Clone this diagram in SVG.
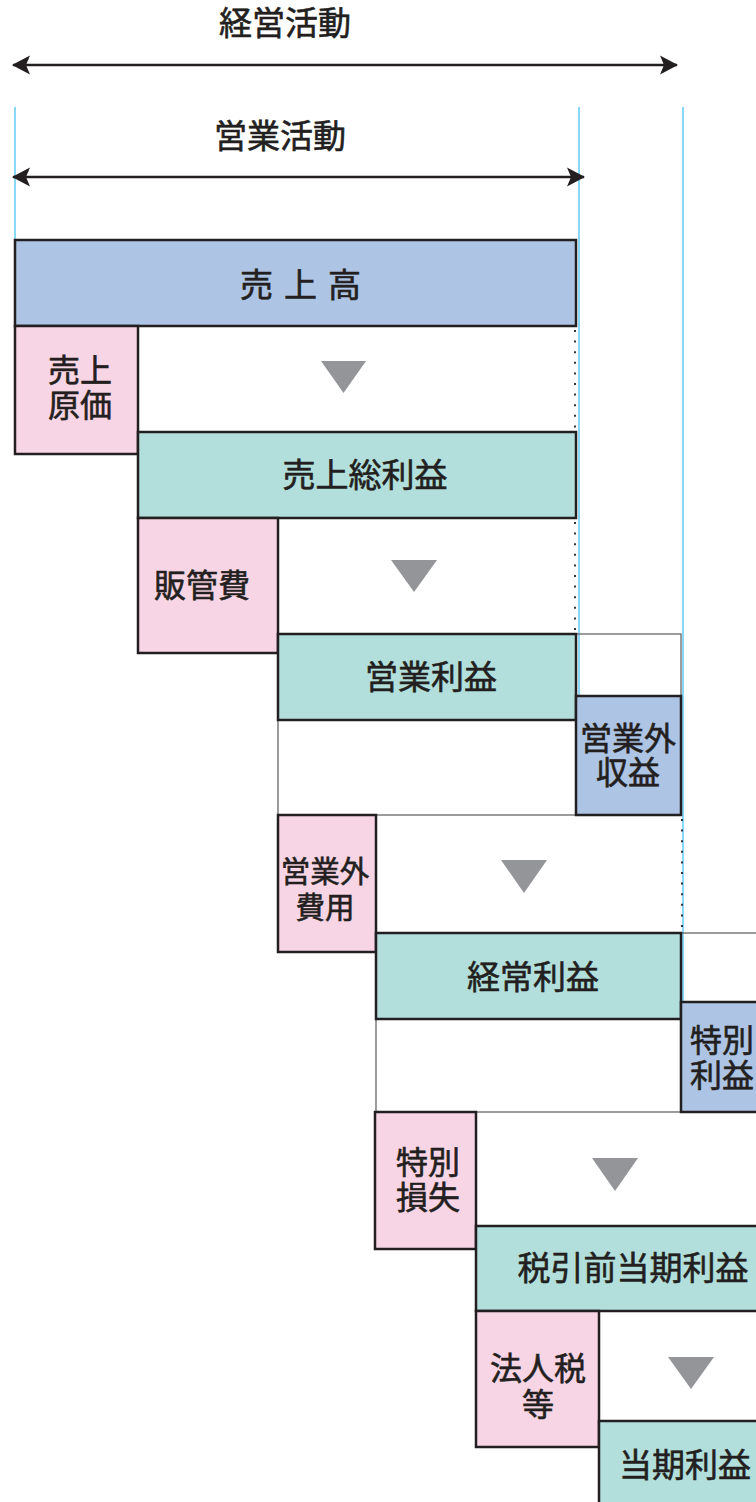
<svg xmlns="http://www.w3.org/2000/svg" width="756" height="1502" viewBox="0 0 756 1502">
<defs>
<style>
text{font-family:"Noto Sans CJK JP","Noto Sans",sans-serif;font-size:33px;fill:#231f20;stroke:#231f20;stroke-width:0.6;text-anchor:middle;font-weight:400}
.two{font-size:32px}
.box{stroke:#231f20;stroke-width:2.5}
.blue{fill:#adc4e4}
.pink{fill:#f8d5e5}
.teal{fill:#b2dfdb}
.thin{fill:none;stroke:#5a5a5a;stroke-width:1.2}
.guide{stroke:#6dcff6;stroke-width:1.6;fill:none}
.dot{stroke:#231f20;stroke-width:1.8;stroke-dasharray:2 8.6;fill:none}
.tri{fill:#939598}
.arr{stroke:#231f20;stroke-width:2.5;fill:none}
</style>
<marker id="ah" viewBox="0 0 20 20" refX="19" refY="10" markerWidth="20" markerHeight="20" markerUnits="userSpaceOnUse" orient="auto-start-reverse">
<path d="M20,10 L2,0.5 L6,10 L2,19.5 Z" fill="#231f20"/>
</marker>
</defs>
<rect width="756" height="1502" fill="#fff"/>

<g id="connectors">
<line class="guide" x1="15" y1="107" x2="15" y2="455"/>
<line class="guide" x1="579" y1="107" x2="579" y2="696"/>
<line class="guide" x1="683" y1="107" x2="683" y2="1002"/>
<line class="arr" x1="13" y1="65" x2="677" y2="65" marker-start="url(#ah)" marker-end="url(#ah)"/>
<line class="arr" x1="13" y1="177" x2="584" y2="177" marker-start="url(#ah)" marker-end="url(#ah)"/>
<line class="dot" x1="575" y1="330" x2="575" y2="432"/>
<line class="dot" x1="575" y1="522" x2="575" y2="634"/>
<line class="dot" x1="682" y1="819" x2="682" y2="933"/>
<rect class="thin" x="278" y="634" width="403" height="181"/>
<rect class="thin" x="376" y="933" width="390" height="179"/>
<polygon class="tri" points="321,361 366,361 343.5,393"/>
<polygon class="tri" points="391,560 437,560 414,592"/>
<polygon class="tri" points="501,860 547,860 524,893"/>
<polygon class="tri" points="592,1158 638,1158 615,1191"/>
<polygon class="tri" points="668,1357 714,1357 691,1389"/>
</g>

<g id="labels">
<text x="285" y="35">経営活動</text>
<text x="280" y="148">営業活動</text>
</g>

<g id="uriagedaka">
<rect class="box blue" x="15" y="240" width="561" height="86"/>
<text x="306" y="297" letter-spacing="11">売上高</text>
</g>
<g id="uriagegenka">
<rect class="box pink" x="15" y="326" width="123" height="128"/>
<text class="two" y="382"><tspan x="80">売上</tspan><tspan x="80" dy="35">原価</tspan></text>
</g>
<g id="uriagesourieki">
<rect class="box teal" x="138" y="432" width="438" height="86"/>
<text x="365" y="487">売上総利益</text>
</g>
<g id="hankanhi">
<rect class="box pink" x="138" y="518" width="140" height="135"/>
<text class="two" x="202" y="597">販管費</text>
</g>
<g id="eigyourieki">
<rect class="box teal" x="278" y="634" width="298" height="86"/>
<text x="431" y="689">営業利益</text>
</g>
<g id="eigyougaishueki">
<rect class="box blue" x="576" y="696" width="105" height="119"/>
<text class="two" y="750"><tspan x="628">営業外</tspan><tspan x="628" dy="34">収益</tspan></text>
</g>
<g id="eigyougaihiyou">
<rect class="box pink" x="278" y="815" width="98" height="137"/>
<text y="882" style="font-size:29.5px"><tspan x="325">営業外</tspan><tspan x="325" dy="36">費用</tspan></text>
</g>
<g id="keijourieki">
<rect class="box teal" x="376" y="933" width="305" height="86"/>
<text x="533" y="989">経常利益</text>
</g>
<g id="tokubetsurieki">
<rect class="box blue" x="681" y="1002" width="90" height="110"/>
<text class="two" y="1052" style="text-anchor:start"><tspan x="690">特別</tspan><tspan x="690" dy="35">利益</tspan></text>
</g>
<g id="tokubetsusonshitsu">
<rect class="box pink" x="375" y="1112" width="101" height="137"/>
<text class="two" y="1174"><tspan x="428">特別</tspan><tspan x="428" dy="35">損失</tspan></text>
</g>
<g id="zeibikimae">
<rect class="box teal" x="476" y="1226" width="295" height="85"/>
<text x="633" y="1280">税引前当期利益</text>
</g>
<g id="houjinzei">
<rect class="box pink" x="476" y="1311" width="123" height="136"/>
<text class="two" y="1380"><tspan x="538">法人税</tspan><tspan x="538" dy="36">等</tspan></text>
</g>
<g id="toukirieki">
<rect class="box teal" x="599" y="1421" width="172" height="95"/>
<text x="685" y="1477">当期利益</text>
</g>
</svg>
